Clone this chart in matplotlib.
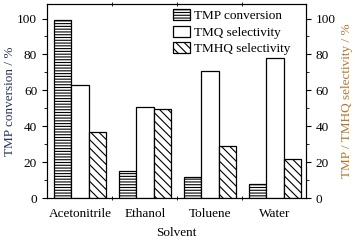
import numpy as np
import matplotlib.pyplot as plt
from matplotlib.ticker import MultipleLocator

plt.rcParams['font.family'] = ['Liberation Serif', 'DejaVu Serif']
plt.rcParams['hatch.linewidth'] = 0.8

solvents = ["Acetonitrile", "Ethanol", "Toluene", "Water"]
tmp_conversion = [99, 15, 12, 8]
tmq_selectivity = [63, 50.5, 71, 78]
tmhq_selectivity = [37, 49.5, 29, 22]

fig = plt.figure(figsize=(3.55, 2.44), dpi=100)
ax = fig.add_axes([0.132, 0.188, 0.73, 0.795])
ax2 = ax.twinx()

x = np.arange(len(solvents))
w = 0.27
ax.bar(x - w, tmp_conversion, w, color='white', edgecolor='black', lw=0.9,
       hatch='------', label='TMP conversion')
ax2.bar(x, tmq_selectivity, w, color='white', edgecolor='black', lw=0.9,
        label='TMQ selectivity')
ax2.bar(x + w, tmhq_selectivity, w, color='white', edgecolor='black', lw=0.9,
        hatch='\\\\\\\\', label='TMHQ selectivity')

for a in (ax, ax2):
    a.set_ylim(0, 108)
    a.yaxis.set_major_locator(MultipleLocator(20))
    a.yaxis.set_minor_locator(MultipleLocator(10))
    a.tick_params(axis='y', which='major', length=3.5, labelsize=9.5)
    a.tick_params(axis='y', which='minor', length=2)
ax.set_xlim(-0.51, 3.48)
ax.set_xticks(x)
ax.set_xticklabels(solvents, fontsize=9.5)
ax.set_xticks(x[:-1] + 0.5, minor=True)
ax.tick_params(axis='x', which='major', length=0, pad=7)
ax.tick_params(axis='x', which='minor', length=3, top=True, direction='inout')

ax.set_xlabel("Solvent", fontsize=9.5, labelpad=5)
ax.set_ylabel("TMP conversion / %", fontsize=9.5, color='#27335e', labelpad=1)
ax2.set_ylabel("TMP / TMHQ selectivity / %", fontsize=9.5, color='#b8762a',
               rotation=90, labelpad=4)

h1, l1 = ax.get_legend_handles_labels()
h2, l2 = ax2.get_legend_handles_labels()
ax2.legend(h1 + h2, l1 + l2, loc='upper right', bbox_to_anchor=(0.96, 1.0),
           fontsize=9.5, frameon=False,
           handlelength=1.3, handleheight=0.9, handletextpad=0.3,
           labelspacing=0.25, borderaxespad=0.2, borderpad=0.2)

fig.savefig("out.png", dpi=100)
